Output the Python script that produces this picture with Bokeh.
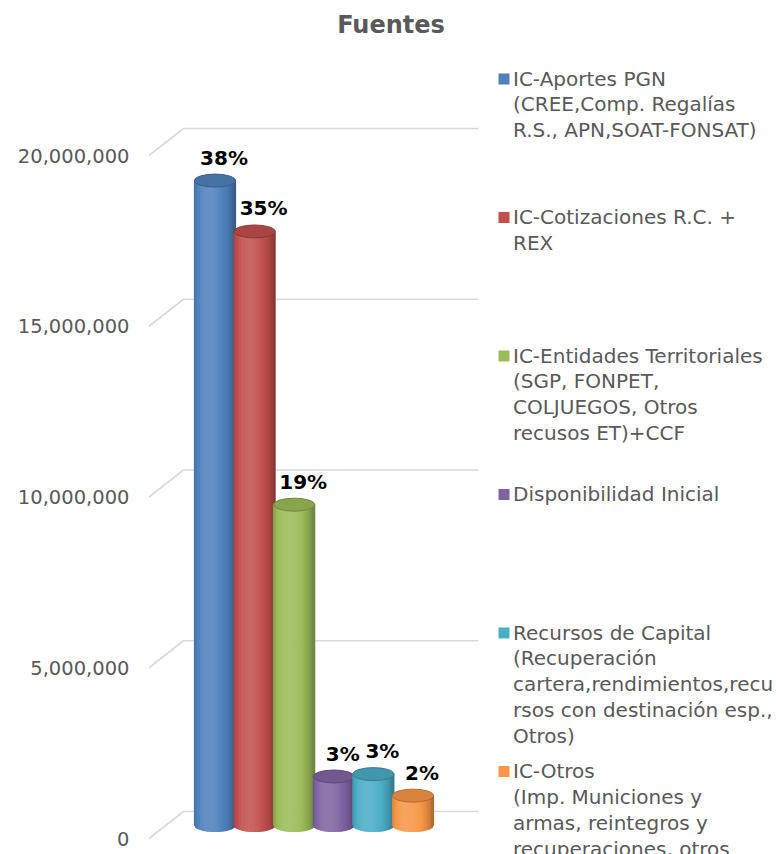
import numpy as np
from bokeh.plotting import figure
from bokeh.models import Range1d, FixedTicker, NumeralTickFormatter
from bokeh.core.properties import value
from bokeh.embed import file_html
from bokeh.resources import INLINE

# ---------------- data ----------------
title_text = ["Fuentes"]
categories = [
    "IC-Aportes PGN\n(CREE,Comp. Regalías\nR.S., APN,SOAT-FONSAT)",
    "IC-Cotizaciones R.C. +\nREX",
    "IC-Entidades Territoriales\n(SGP, FONPET,\nCOLJUEGOS, Otros\nrecusos ET)+CCF",
    "Disponibilidad Inicial",
    "Recursos de Capital\n(Recuperación\ncartera,rendimientos,recu\nrsos con destinación esp.,\nOtros)",
    "IC-Otros\n(Imp. Municiones y\narmas, reintegros y\nrecuperaciones, otros",
]
values = [18_870_000, 17_380_000, 9_380_000, 1_420_000, 1_490_000, 860_000]
pct_labels = ["38%", "35%", "19%", "3%", "3%", "2%"]
colors = ["#4F81BD", "#C0504D", "#9BBB59", "#8064A2", "#4BACC6", "#F79646"]
y_ticks = [0, 5_000_000, 10_000_000, 15_000_000, 20_000_000]

# ---------------- layout / scales ----------------
W, H = 776, 854
LEFT = 148                      # frame left border (px)
FRAME_W = W - LEFT
SLOT = 39.6                     # px per category slot
X0 = 66.5                       # px from frame left to first bar centre
K = 34.15e-6                    # px per unit of value
ZERO_Y = 838                    # canvas y of value 0 on the front wall

x_start = -X0 / SLOT
x_end = x_start + FRAME_W / SLOT
y_start = -(H - ZERO_Y) / K
y_end = ZERO_Y / K


def dxp(p):
    return p / SLOT


def dyp(p):
    return p / K


def px_x(cx):
    return (cx - LEFT - X0) / SLOT


def px_y(cy):
    return (ZERO_Y - cy) / K


def hex_rgb(c):
    c = c.lstrip("#")
    return [int(c[i:i + 2], 16) for i in (0, 2, 4)]


def shade(c, m):
    r = []
    for v in hex_rgb(c):
        if m <= 1:
            nv = v * m
        else:
            nv = v + (255 - v) * (m - 1) * 1.3
        r.append(int(max(0, min(255, round(nv)))))
    return "#%02x%02x%02x" % tuple(r)


def side_m(t):
    u = np.clip((t + 0.25) / 1.25, -1, 1)
    return 0.80 + 0.30 * np.cos(u * np.pi / 2) - 0.12 * abs(t) ** 6


p = figure(width=W, height=H, x_range=Range1d(x_start, x_end), y_range=Range1d(y_start, y_end),
           output_backend="svg", toolbar_location=None,
           min_border_left=LEFT, min_border_right=0, min_border_top=0, min_border_bottom=0)
p.outline_line_color = None
p.xaxis.visible = False
p.xgrid.visible = False
p.ygrid.visible = False
p.background_fill_color = "white"

ya = p.yaxis[0]
ya.ticker = FixedTicker(ticks=y_ticks)
ya.formatter = NumeralTickFormatter(format="0,0")
ya.axis_line_color = None
ya.major_tick_line_color = None
ya.minor_tick_line_color = None
ya.major_tick_out = 0
ya.major_tick_in = 0
ya.major_label_standoff = 19
ya.major_label_text_font = "DejaVu Sans"
ya.major_label_text_font_size = "19.5px"
ya.major_label_text_color = "#595959"

# ---------------- 3D gridlines ----------------
DEPTH_X, DEPTH_Y = 35, 27
gx, gy = [], []
for v in y_ticks:
    gx.append([x_start + dxp(0.5), x_start + dxp(DEPTH_X), px_x(478)])
    gy.append([v, v + dyp(DEPTH_Y), v + dyp(DEPTH_Y)])
p.multi_line(xs=gx, ys=gy, line_color="#D9D9D9", line_width=1.6)

# ---------------- cylinders ----------------
A = dxp(20.5)
B = dyp(6.5)
MID = dyp(13.5)
N = 28
for i, (v, c) in enumerate(zip(values, colors)):
    xs, ys, fc = [], [], []
    base = MID
    top = v + MID
    for j in range(N):
        t0 = -1 + 2 * j / N
        t1 = -1 + 2 * (j + 1) / N
        tm = 0.5 * (t0 + t1)
        xs.append([i + t0 * A, i + t1 * A, i + t1 * A, i + t0 * A])
        ys.append([top, top, base - B * np.sqrt(max(0, 1 - t1 ** 2)), base - B * np.sqrt(max(0, 1 - t0 ** 2))])
        fc.append(shade(c, side_m(tm)))
    p.patches(xs=xs, ys=ys, fill_color=fc, line_color=fc, line_width=1.2)
    p.ellipse(x=[i], y=[top], width=[2 * A], height=[2 * B],
              fill_color=shade(c, 0.88), line_color=shade(c, 0.72), line_width=1)

# ---------------- percentage labels ----------------
p.text(x=[i + dxp(9) for i in range(len(values))],
       y=[v + MID + dyp(23) for v in values],
       text=pct_labels, text_font=value("DejaVu Sans"), text_font_style="bold",
       text_font_size="20px", text_align="center", text_baseline="middle", text_color="black")

# ---------------- title ----------------
p.text(x=[px_x(390.5)], y=[px_y(24)], text=title_text, text_font=value("DejaVu Sans"),
       text_font_style="bold", text_font_size="24px", text_align="center",
       text_baseline="middle", text_color="#595959")

# ---------------- legend ----------------
item_y = [78.5 + 138.5 * i for i in range(len(categories))]
p.scatter(x=[px_x(503.5)] * len(categories), y=[px_y(y) for y in item_y],
          marker="square", size=11, fill_color=colors, line_color=None)
p.text(x=[px_x(512.5)] * len(categories), y=[px_y(y - 12.5) for y in item_y],
       text=categories, text_font=value("DejaVu Sans"), text_font_size="20px",
       text_align="left", text_baseline="top", text_line_height=1.08, text_color="#595959")

open("out.html", "w").write(file_html(p, INLINE))
